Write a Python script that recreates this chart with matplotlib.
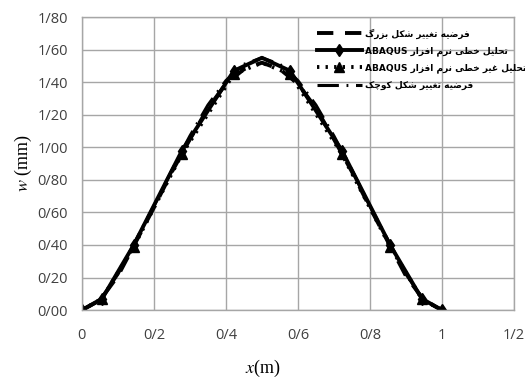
import matplotlib
matplotlib.use("Agg")
import matplotlib.pyplot as plt

plt.rcParams['mathtext.fontset'] = 'stix'

# ---------------- data ----------------
x_theory = [0, 0.05, 0.1, 0.15, 0.2, 0.25, 0.3, 0.35, 0.4, 0.45, 0.5,
            0.55, 0.6, 0.65, 0.7, 0.75, 0.8, 0.85, 0.9, 0.95, 1.0]
w_large = [0, 0.06, 0.21, 0.42, 0.63, 0.85, 1.05, 1.24, 1.39, 1.48, 1.52,
           1.48, 1.39, 1.24, 1.05, 0.85, 0.63, 0.42, 0.21, 0.06, 0]
w_small = [0, 0.06, 0.22, 0.43, 0.64, 0.86, 1.07, 1.26, 1.41, 1.51, 1.55,
           1.51, 1.41, 1.26, 1.07, 0.86, 0.64, 0.43, 0.22, 0.06, 0]

x_fem = [0, 0.056, 0.144, 0.278, 0.422, 0.5, 0.578, 0.722, 0.856, 0.944, 1.0]
w_lin = [0, 0.07, 0.40, 0.98, 1.47, 1.55, 1.47, 0.98, 0.40, 0.07, 0]
w_nonlin = [0, 0.07, 0.39, 0.96, 1.45, 1.52, 1.45, 0.96, 0.39, 0.07, 0]
fem_marked = [0, 1, 2, 3, 4, 6, 7, 8, 9, 10]

labels = ["فرضیه تغییر شکل بزرگ",
          "تحلیل خطی نرم افزار ABAQUS",
          "تحلیل غیر خطی نرم افزار ABAQUS",
          "فرضیه تغییر شکل کوچک"]

x_ticks = [0, 0.2, 0.4, 0.6, 0.8, 1.0, 1.2]
x_ticklabels = ["0", "0/2", "0/4", "0/6", "0/8", "1", "1/2"]
y_ticks = [0, 0.2, 0.4, 0.6, 0.8, 1.0, 1.2, 1.4, 1.6, 1.8]
y_ticklabels = ["0/00", "0/20", "0/40", "0/60", "0/80", "1/00", "1/20", "1/40", "1/60", "1/80"]

# ------------- minimal Persian shaping (presentation forms, visual order) -------------
FORMS = {
    'ا': (0xFE8D, 0xFE8E, None, None),
    'ب': (0xFE8F, 0xFE90, 0xFE91, 0xFE92),
    'ت': (0xFE95, 0xFE96, 0xFE97, 0xFE98),
    'ح': (0xFEA1, 0xFEA2, 0xFEA3, 0xFEA4),
    'خ': (0xFEA5, 0xFEA6, 0xFEA7, 0xFEA8),
    'ر': (0xFEAD, 0xFEAE, None, None),
    'ز': (0xFEAF, 0xFEB0, None, None),
    'ش': (0xFEB5, 0xFEB6, 0xFEB7, 0xFEB8),
    'ض': (0xFEBD, 0xFEBE, 0xFEBF, 0xFEC0),
    'ط': (0xFEC1, 0xFEC2, 0xFEC3, 0xFEC4),
    'غ': (0xFECD, 0xFECE, 0xFECF, 0xFED0),
    'ف': (0xFED1, 0xFED2, 0xFED3, 0xFED4),
    'ل': (0xFEDD, 0xFEDE, 0xFEDF, 0xFEE0),
    'م': (0xFEE1, 0xFEE2, 0xFEE3, 0xFEE4),
    'ن': (0xFEE5, 0xFEE6, 0xFEE7, 0xFEE8),
    'ه': (0xFEE9, 0xFEEA, 0xFEEB, 0xFEEC),
    'و': (0xFEED, 0xFEEE, None, None),
    'ی': (0xFBFC, 0xFBFD, 0xFBFE, 0xFBFF),
    'ک': (0xFB8E, 0xFB8F, 0xFB90, 0xFB91),
    'گ': (0xFB92, 0xFB93, 0xFB94, 0xFB95),
    'چ': (0xFB7A, 0xFB7B, 0xFB7C, 0xFB7D),
}


def shape_word(w):
    out = []
    n = len(w)
    for i, ch in enumerate(w):
        f = FORMS.get(ch)
        if f is None:
            out.append(ch)
            continue
        prev_joins = i > 0 and w[i - 1] in FORMS and FORMS[w[i - 1]][2] is not None
        next_ok = i < n - 1 and w[i + 1] in FORMS and f[2] is not None
        if prev_joins and next_ok:
            out.append(chr(f[3]))
        elif prev_joins:
            out.append(chr(f[1]))
        elif next_ok:
            out.append(chr(f[2]))
        else:
            out.append(chr(f[0]))
    return ''.join(out)


def visual(s):
    tokens = s.split(' ')
    latin = [t for t in tokens if t and t.isascii()]
    arab = [t for t in tokens if t and not t.isascii()]
    arab_vis = ' '.join(shape_word(t)[::-1] for t in reversed(arab))
    if latin:
        return ' '.join(latin) + ' ' + arab_vis
    return arab_vis


# ---------------- plot ----------------
fig = plt.figure(figsize=(5.25, 3.8), dpi=100)
ax = fig.add_axes([0.156, 0.184, 0.823, 0.771])

grid_c = '#a6a6a6'
ax.set_xlim(0, 1.2)
ax.set_ylim(0, 1.8)
ax.set_xticks(x_ticks)
ax.set_xticklabels(x_ticklabels)
ax.set_yticks(y_ticks)
ax.set_yticklabels(y_ticklabels)
ax.grid(True, color=grid_c, linewidth=1.0)
ax.set_axisbelow(True)
for sp in ax.spines.values():
    sp.set_color(grid_c)
    sp.set_linewidth(1.0)
ax.tick_params(axis='both', length=0, labelsize=10.5, colors='#404040')
ax.tick_params(axis='x', pad=13)
ax.tick_params(axis='y', pad=10)
for lab in ax.get_xticklabels() + ax.get_yticklabels():
    lab.set_family('Open Sans')

l1, = ax.plot(x_theory, w_large, color='black', lw=2.8, ls=(0, (4.2, 3)))
l2, = ax.plot(x_fem, w_lin, color='black', lw=2.8, marker='d', ms=6,
              markevery=fem_marked)
l3, = ax.plot(x_fem, w_nonlin, color='black', lw=2.8, ls=(0, (0.6, 1.6)),
              marker='^', ms=7, markevery=fem_marked)
l4, = ax.plot(x_theory, w_small, color='black', lw=2.2, ls=(0, (7, 2.5, 0.6, 2.5)))

ax.set_xlabel('$x$(m)', family='Liberation Serif', fontsize=13)
ax.set_ylabel('$w$ (mm)', family='Liberation Serif', fontsize=13)
ax.xaxis.set_label_coords(0.419, -0.162)
ax.yaxis.set_label_coords(-0.111, 0.5)

leg = ax.legend([l1, l2, l3, l4], [visual(t) for t in labels],
                loc='upper left', bbox_to_anchor=(0.543, 0.962),
                prop={'family': ['DejaVu Sans'], 'size': 6.5, 'weight': 'bold'},
                frameon=False, handlelength=5.0, handletextpad=0.4,
                borderpad=0, labelspacing=0.85, borderaxespad=0)

fig.savefig('out.png', dpi=100)
